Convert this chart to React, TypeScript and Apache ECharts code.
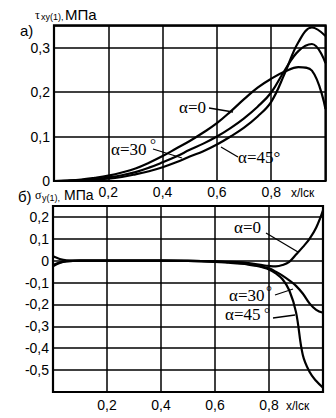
import React, { useEffect, useRef } from 'react';
import * as echarts from 'echarts';

// ---- Top chart (а): shear stress τxy(1), МПа ----
const xTop = [0, 0.05, 0.1, 0.15, 0.2, 0.25, 0.3, 0.35, 0.4, 0.45, 0.5, 0.55, 0.6, 0.65, 0.7, 0.75, 0.8, 0.85, 0.9, 0.95, 1.0];
const tauA0 = [0, 0.001, 0.003, 0.007, 0.012, 0.019, 0.028, 0.041, 0.056, 0.073, 0.09, 0.109, 0.13, 0.156, 0.184, 0.21, 0.23, 0.246, 0.256, 0.248, 0.162];
const tauA30 = [0, 0.0005, 0.002, 0.004, 0.008, 0.013, 0.02, 0.03, 0.042, 0.055, 0.07, 0.084, 0.1, 0.119, 0.141, 0.167, 0.199, 0.249, 0.292, 0.308, 0.265];
const tauA45 = [0, 0.0003, 0.001, 0.003, 0.005, 0.009, 0.015, 0.022, 0.031, 0.042, 0.055, 0.067, 0.082, 0.1, 0.12, 0.145, 0.178, 0.242, 0.312, 0.345, 0.326];

// ---- Bottom chart (б): normal stress σy(1), МПа ----
const xBot = [0, 0.025, 0.05, 0.1, 0.2, 0.3, 0.4, 0.5, 0.6, 0.65, 0.7, 0.725, 0.75, 0.775, 0.8, 0.825, 0.85, 0.875, 0.9, 0.925, 0.95, 0.975, 1.0];
const sigA0 = [0.02, 0.008, 0.002, 0, 0, 0, 0, -0.001, -0.003, -0.005, -0.008, -0.011, -0.015, -0.02, -0.024, -0.026, -0.02, -0.005, 0.028, 0.062, 0.1, 0.152, 0.23];
const sigA30 = [-0.02, -0.008, -0.002, 0, 0, 0, 0, -0.001, -0.004, -0.007, -0.012, -0.016, -0.021, -0.027, -0.035, -0.05, -0.068, -0.09, -0.115, -0.15, -0.195, -0.225, -0.238];
const sigA45 = [-0.025, -0.01, -0.003, 0, 0, 0, 0, -0.001, -0.005, -0.009, -0.014, -0.018, -0.023, -0.03, -0.04, -0.058, -0.085, -0.135, -0.235, -0.43, -0.508, -0.55, -0.58];

// ---- Tick labels ----
const xTicks = [0.2, 0.4, 0.6, 0.8];
const yTicksTop = [0, 0.1, 0.2, 0.3];
const yTicksBot = [0.2, 0.1, 0, -0.1, -0.2, -0.3, -0.4, -0.5];

const fmt = (ticks: number[]) => (v: number) => {
  const t = ticks.find((k) => Math.abs(k - v) < 1e-6);
  return t === undefined ? '' : String(t).replace('.', ',');
};

const SANS = 'Liberation Sans';
const SERIF = 'Liberation Serif';

const txt = (text: string, x: number, y: number, fontSize: number, fontFamily = SANS) => ({
  type: 'text',
  x,
  y,
  silent: true,
  style: { text, fontSize, fontFamily, fill: '#000', align: 'left', verticalAlign: 'top' },
});
const ln = (x1: number, y1: number, x2: number, y2: number) => ({
  type: 'line',
  silent: true,
  shape: { x1, y1, x2, y2 },
  style: { stroke: '#000', lineWidth: 1.3 },
});

export default function App() {
  const ref = useRef<HTMLDivElement>(null);
  useEffect(() => {
    if (!ref.current) return;
    const chart = echarts.init(ref.current, undefined, { renderer: 'svg' });
    const mk = (xs: number[], ys: number[], idx: number) => ({
      type: 'line',
      xAxisIndex: idx,
      yAxisIndex: idx,
      data: xs.map((x, i) => [x, ys[i]]),
      smooth: 0.4,
      symbol: 'none',
      showSymbol: false,
      lineStyle: { color: '#000', width: 2.2 },
      silent: true,
    });
    const gridLine = { show: true, lineStyle: { color: '#000', width: 1.5 } };
    chart.setOption({
      animation: false,
      backgroundColor: '#fff',
      grid: [
        { left: 54, top: 25.3, width: 271.5, height: 155.7, show: true, borderColor: '#000', borderWidth: 2.2 },
        { left: 53, top: 206, width: 270, height: 186, show: true, borderColor: '#000', borderWidth: 2.2 },
      ],
      xAxis: [0, 1].map((i) => ({
        type: 'value',
        gridIndex: i,
        min: 0,
        max: 1,
        interval: 0.2,
        axisLine: { show: false },
        axisTick: { show: false },
        splitLine: gridLine,
        axisLabel: { formatter: fmt(xTicks), color: '#000', fontSize: 14, fontFamily: SANS, margin: i === 0 ? 4 : 6 },
      })),
      yAxis: [
        {
          type: 'value',
          gridIndex: 0,
          min: 0,
          max: 0.35,
          interval: 0.1,
          axisLine: { show: false },
          axisTick: { show: false },
          splitLine: gridLine,
          axisLabel: { formatter: fmt(yTicksTop), color: '#000', fontSize: 14, fontFamily: SANS, margin: 4 },
        },
        {
          type: 'value',
          gridIndex: 1,
          min: -0.6,
          max: 0.25,
          interval: 0.1,
          axisLine: { show: false },
          axisTick: { show: false },
          splitLine: gridLine,
          axisLabel: { formatter: fmt(yTicksBot), color: '#000', fontSize: 14, fontFamily: SANS, margin: 4 },
        },
      ],
      series: [
        mk(xTop, tauA0, 0),
        mk(xTop, tauA30, 0),
        mk(xTop, tauA45, 0),
        mk(xBot, sigA0, 1),
        mk(xBot, sigA30, 1),
        mk(xBot, sigA45, 1),
      ],
      graphic: [
        // titles
        txt('а)', 20, 23, 15),
        txt('τ', 35, 9, 12, SERIF),
        txt('xy(1),', 41, 12, 9),
        txt('МПа', 65, 7, 15),
        txt('б)', 18, 189, 15),
        txt('σ', 35, 189, 12, SERIF),
        txt('y(1),', 42, 193, 9),
        txt('МПа', 64, 188, 14),
        // x axis names
        txt('x/lск', 291, 187, 12),
        txt('x/lск', 286, 400, 12),
        // top annotations
        txt('α=0', 179, 99, 17, SERIF),
        ln(209, 108, 233, 112),
        txt('α=30', 111, 141, 17, SERIF),
        txt('°', 150, 136, 15, SERIF),
        ln(153, 149, 182, 158),
        txt('α=45°', 238, 149, 17, SERIF),
        ln(238, 157, 221, 147),
        // bottom annotations
        txt('α=0', 234, 219, 17, SERIF),
        ln(266, 233, 298, 252),
        txt('α=30', 229, 287, 17, SERIF),
        txt('°', 266, 283, 15, SERIF),
        ln(275, 295, 293, 289),
        txt('α=45', 225, 306, 17, SERIF),
        txt('°', 264, 305, 15, SERIF),
        ln(273, 318, 295, 315),
      ],
    });
    return () => chart.dispose();
  }, []);
  return <div ref={ref} style={{ position: 'absolute', left: 0, top: 0, width: 336, height: 418 }} />;
}
